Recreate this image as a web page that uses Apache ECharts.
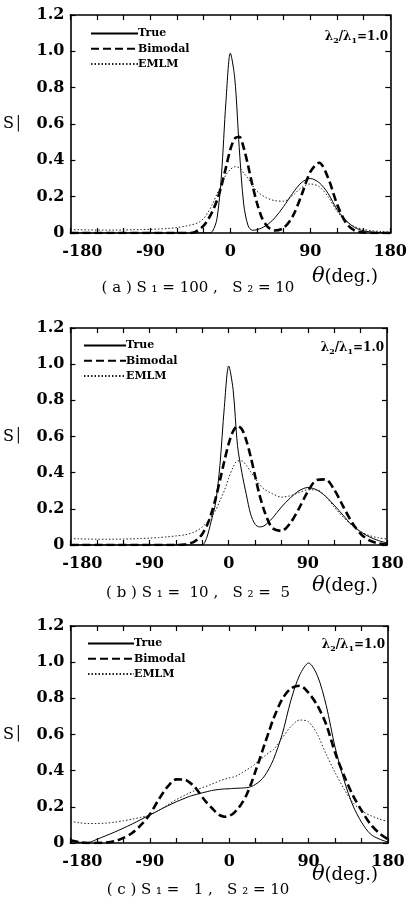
<!DOCTYPE html>
<html>
<head>
<meta charset="utf-8">
<script src="https://cdn.jsdelivr.net/npm/echarts@6/dist/echarts.min.js"></script>
<style>
html, body { margin: 0; padding: 0; background: #fff; }
#chart { width: 410px; height: 914px; }
</style>
</head>
<body>
<div id="chart"></div>
<script>
// direction angle (deg.), shared by all three panels
var theta = [-180,-170,-160,-150,-140,-130,-120,-110,-100,-90,-80,-70,-60,-50,
  -45,-40,-35,-30,-25,-20,-15,-10,-5,0,5,10,15,20,25,30,35,40,45,
  50,60,70,80,90,100,110,120,130,140,150,160,170,180];

// (a) S1=100, S2=10
var trueA = [0,0,0,0,0,0,0,0,0,0,0,0,0,0,
  0,0,0,0,0,0.01,0.08,0.32,0.72,0.99,0.85,0.47,0.16,0.04,0.015,0.018,0.027,0.04,0.059,
  0.083,0.146,0.218,0.277,0.30,0.277,0.218,0.13,0.07,0.03,0.012,0.005,0.002,0];
var bimodalA = [0,0,0,0,0,0,0,0,0,0,0,0,0,0,
  0,0.005,0.02,0.04,0.075,0.12,0.18,0.26,0.36,0.46,0.52,0.53,0.47,0.37,0.26,0.165,0.09,0.046,0.022,
  0.014,0.028,0.09,0.207,0.336,0.387,0.304,0.16,0.057,0.013,0.003,0,0,0];
var emlmA = [0.018,0.018,0.017,0.016,0.016,0.016,0.017,0.018,0.019,0.02,0.022,0.025,0.03,0.038,
  0.044,0.05,0.06,0.08,0.115,0.16,0.215,0.265,0.32,0.35,0.365,0.36,0.33,0.3,0.26,0.23,0.21,0.195,0.185,
  0.178,0.175,0.205,0.25,0.27,0.255,0.2,0.12,0.065,0.035,0.02,0.012,0.008,0.005];

// (b) S1=10, S2=5
var trueB = [0,0,0,0,0,0,0,0,0,0,0,0,0,0,
  0,0,0,0,0.04,0.13,0.23,0.44,0.76,0.99,0.86,0.55,0.40,0.28,0.17,0.115,0.10,0.105,0.125,
  0.15,0.21,0.26,0.30,0.318,0.305,0.27,0.22,0.165,0.11,0.073,0.045,0.025,0.012];
var bimodalB = [0,0,0,0,0,0,0,0,0,0,0,0,0,0.003,
  0.008,0.016,0.033,0.061,0.105,0.17,0.255,0.356,0.463,0.56,0.629,0.658,0.64,0.579,0.488,0.382,0.278,0.196,0.132,
  0.092,0.078,0.121,0.203,0.296,0.359,0.363,0.306,0.215,0.126,0.062,0.025,0.009,0.003];
var emlmB = [0.035,0.034,0.033,0.032,0.032,0.032,0.033,0.034,0.036,0.038,0.041,0.045,0.05,0.056,
  0.062,0.07,0.082,0.1,0.125,0.155,0.19,0.245,0.3,0.37,0.43,0.465,0.465,0.44,0.405,0.37,0.335,0.31,0.295,
  0.283,0.265,0.272,0.29,0.305,0.305,0.27,0.21,0.155,0.11,0.074,0.052,0.04,0.033];

// (c) S1=1, S2=10
var trueC = [0.015,0.004,0.003,0.02,0.04,0.06,0.082,0.105,0.13,0.155,0.18,0.205,0.228,0.248,
  0.258,0.265,0.272,0.278,0.284,0.29,0.294,0.297,0.299,0.3,0.302,0.303,0.304,0.306,0.312,0.325,0.343,0.37,0.41,
  0.46,0.6,0.79,0.93,0.995,0.925,0.76,0.53,0.35,0.21,0.115,0.05,0.022,0.005];
var bimodalC = [0.015,0.004,0,0,0.002,0.01,0.028,0.055,0.1,0.158,0.24,0.31,0.352,0.35,
  0.335,0.315,0.285,0.25,0.22,0.195,0.17,0.152,0.145,0.15,0.165,0.19,0.225,0.27,0.33,0.4,0.47,0.545,0.615,
  0.685,0.795,0.855,0.87,0.83,0.76,0.655,0.5,0.375,0.265,0.18,0.105,0.055,0.02];
var emlmC = [0.12,0.112,0.108,0.108,0.11,0.115,0.123,0.132,0.142,0.155,0.18,0.21,0.24,0.265,
  0.277,0.288,0.298,0.307,0.315,0.325,0.335,0.345,0.353,0.36,0.365,0.375,0.39,0.405,0.42,0.44,0.46,0.48,0.5,
  0.515,0.58,0.645,0.68,0.67,0.6,0.49,0.39,0.3,0.225,0.18,0.152,0.133,0.118];

var seriesNames = ['True', 'Bimodal', 'EMLM'];
var captions = ['( a ) S \u2081 = 100 ,   S \u2082 = 10', '( b ) S \u2081 =  10 ,   S \u2082 =  5', '( c ) S \u2081 =   1 ,   S \u2082 = 10'];
var panelData = [[trueA, bimodalA, emlmA], [trueB, bimodalB, emlmB], [trueC, bimodalC, emlmC]];

// layout of the three stacked plots
var panels = [
  {left: 69, right: 19, top: 15, height: 218, legendLeft: 90, legendTop: 28, legendW: 47, ratioY: 37, thetaY: 277, capY: 288},
  {left: 66, right: 23, top: 328, height: 217, legendLeft: 83, legendTop: 340, legendW: 42, ratioY: 348, thetaY: 586, capY: 593},
  {left: 68, right: 22, top: 626, height: 217, legendLeft: 87, legendTop: 638, legendW: 46, ratioY: 645, thetaY: 875, capY: 890}
];

var serif = 'DejaVu Serif';
var lineStyles = [
  {color: '#000', width: 1, type: 'solid'},
  {color: '#000', width: 2.6, type: [8, 4]},
  {color: '#222', width: 1, type: [1.5, 2]}
];

function pairs(ys) {
  return theta.map(function (t, i) { return [t, ys[i]]; });
}

var grid = [], xAxis = [], yAxis = [], series = [], legend = [], graphic = [];
var tickStyle = {inside: true, length: 5, lineStyle: {color: '#000', width: 1.2}};

panels.forEach(function (p, k) {
  grid.push({left: p.left, right: p.right, top: p.top, height: p.height});
  var frame = {show: true, onZero: false, lineStyle: {color: '#000', width: 1.6}};
  xAxis.push({
    type: 'value', gridIndex: k, min: -180, max: 180, interval: 30, position: 'bottom',
    axisLine: frame, splitLine: {show: false}, axisTick: tickStyle,
    axisLabel: {
      color: '#000', fontFamily: serif, fontSize: 16, fontWeight: 'bold', margin: 11,
      showMinLabel: true, showMaxLabel: true,
      formatter: function (v) {
        if (v === -180) return '{m|-180}';
        return v % 90 === 0 ? String(v) : '';
      },
      rich: {
        m: {fontFamily: serif, fontSize: 16, fontWeight: 'bold', color: '#000', padding: [0, 0, 0, 24]}
      }
    }
  });
  xAxis.push({
    type: 'value', gridIndex: k, min: -180, max: 180, interval: 30, position: 'top',
    axisLine: frame, splitLine: {show: false}, axisLabel: {show: false}, axisTick: tickStyle
  });
  yAxis.push({
    type: 'value', gridIndex: k, min: 0, max: 1.2, interval: 0.2, position: 'left',
    axisLine: frame, splitLine: {show: false}, axisTick: tickStyle,
    axisLabel: {
      color: '#000', fontFamily: serif, fontSize: 16, fontWeight: 'bold', margin: 6,
      showMinLabel: true, showMaxLabel: true,
      formatter: function (v) { return v === 0 ? '0' : v.toFixed(1); }
    },
    name: '{s|S}{b|\u2502}', nameLocation: 'middle', nameGap: 48, nameRotate: 0,
    nameTextStyle: {
      rich: {
        s: {fontFamily: serif, fontSize: 16, color: '#000'},
        b: {fontFamily: serif, fontSize: 14, color: '#000'}
      }
    }
  });
  yAxis.push({
    type: 'value', gridIndex: k, min: 0, max: 1.2, interval: 0.2, position: 'right',
    axisLine: frame, splitLine: {show: false}, axisLabel: {show: false}, axisTick: tickStyle
  });

  panelData[k].forEach(function (ys, j) {
    series.push({
      name: seriesNames[j], type: 'line', xAxisIndex: 2 * k, yAxisIndex: 2 * k,
      data: pairs(ys), smooth: 0.3, symbol: 'none', lineStyle: lineStyles[j],
      itemStyle: {color: lineStyles[j].color}, silent: true, animation: false
    });
  });

  legend.push({
    data: seriesNames, orient: 'vertical', left: p.legendLeft, top: p.legendTop,
    itemWidth: p.legendW, itemHeight: 14, itemGap: 4, padding: 0,
    itemStyle: {opacity: 0},
    textStyle: {color: '#000', fontFamily: serif, fontSize: 11, fontWeight: 'bold', padding: [0, 0, 0, -5]},
    selectedMode: false
  });

  graphic.push({
    type: 'text', x: 410 - p.right - 3, y: p.ratioY,
    style: {
      text: '{l|\u03bb}{s|2}{l|/\u03bb}{s|1}{l|=1.0}',
      align: 'right', verticalAlign: 'middle', fill: '#000',
      rich: {
        l: {fontFamily: serif, fontSize: 12, fontWeight: 'bold', fill: '#000', lineHeight: 16},
        s: {fontFamily: serif, fontSize: 8, fontWeight: 'bold', fill: '#000', lineHeight: 16, padding: [7, 0, 0, 0]}
      }
    }
  });
  graphic.push({
    type: 'text', x: 378, y: p.thetaY,
    style: {
      text: '{t|\u03b8}{d|(deg.)}', align: 'right', verticalAlign: 'middle', fill: '#000',
      rich: {
        t: {fontFamily: serif, fontSize: 21, fontStyle: 'italic', fill: '#000'},
        d: {fontFamily: serif, fontSize: 18, fill: '#000'}
      }
    }
  });
  graphic.push({
    type: 'text', x: 198, y: p.capY,
    style: {
      text: captions[k], align: 'center', verticalAlign: 'middle', fill: '#000',
      fontFamily: serif, fontSize: 15
    }
  });
});

var chart = echarts.init(document.getElementById('chart'), null, {renderer: 'canvas'});
chart.setOption({
  backgroundColor: '#fff',
  animation: false,
  grid: grid,
  xAxis: xAxis,
  yAxis: yAxis,
  legend: legend,
  series: series,
  graphic: graphic
});
</script>
</body>
</html>
